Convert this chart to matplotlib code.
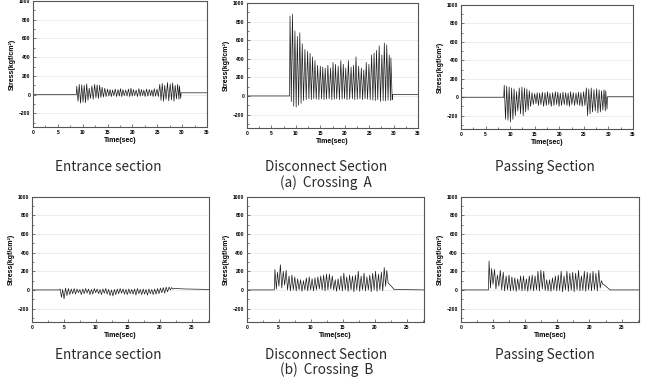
import numpy as np
import matplotlib.pyplot as plt
from matplotlib.ticker import MultipleLocator

# burst times (sec) of the train passing, crossing A and crossing B
t_a = [8.8, 9.3, 9.8, 10.3, 10.8, 11.3, 11.85, 12.4, 12.9, 13.4, 13.9, 14.45, 15.0, 15.5,
       16.0, 16.55, 17.1, 17.6, 18.1, 18.65, 19.2, 19.7, 20.2, 20.75, 21.3, 21.8, 22.3,
       22.85, 23.4, 23.9, 24.4, 24.95, 25.5, 26.0, 26.5, 27.05, 27.6, 28.1, 28.6, 29.1, 29.45]
t_b = [4.4, 4.8, 5.25, 5.7, 6.15, 6.6, 7.05, 7.5, 7.95, 8.4, 8.85, 9.3, 9.75, 10.2, 10.65,
       11.1, 11.55, 12.0, 12.45, 12.9, 13.35, 13.8, 14.25, 14.7, 15.15, 15.6, 16.05, 16.5,
       16.95, 17.4, 17.85, 18.3, 18.75, 19.2, 19.65, 20.1, 20.55, 21.0, 21.45, 21.85]

# crossing A - entrance
hi_a1 = [90, 110, 105, 100, 115, 70, 95, 110, 105, 100, 80, 70, 60, 55, 50, 60, 55, 65, 55, 50,
         60, 70, 55, 50, 65, 55, 50, 60, 55, 50, 65, 60, 110, 120, 100, 130, 115, 125, 100, 110, 95]
lo_a1 = [-70, -90, -80, -85, -60, -40, -50, -35, -40, -30, -25, -20, -15, -20, -10, -20, -15, -20,
         -10, -15, -20, -15, -10, -20, -15, -10, -20, -15, -10, -20, -15, -20, -60, -70, -50, -65,
         -55, -70, -45, -50, -40]
# crossing A - disconnect
hi_a2 = [860, 880, 700, 640, 680, 560, 500, 480, 460, 420, 380, 330, 320, 310, 300, 330, 300, 360,
         340, 320, 380, 340, 300, 380, 310, 330, 420, 320, 300, 280, 360, 340, 440, 460, 490, 540,
         440, 570, 550, 440, 410]
lo_a2 = [-60, -110, -120, -100, -80, -50, -40, -30, -40, -30, -35, -40, -30, -40, -35, -30, -40,
         -35, -30, -40, -35, -30, -40, -35, -30, -40, -35, -30, -40, -30, -35, -40, -45, -50, -40,
         -60, -50, -55, -45, -50, -40]
# crossing A - passing
hi_a3 = [130, 120, 110, 100, 90, 60, 100, 110, 100, 90, 70, 50, 40, 50, 45, 55, 50, 60, 45, 50,
         60, 55, 45, 55, 50, 45, 60, 50, 45, 55, 50, 60, 100, 90, 100, 80, 90, 80, 70, 80, 70]
lo_a3 = [-240, -250, -270, -240, -200, -150, -180, -200, -160, -140, -100, -80, -70, -90, -80,
         -100, -90, -80, -100, -90, -80, -100, -90, -80, -90, -100, -80, -90, -80, -90, -100, -90,
         -200, -180, -160, -150, -170, -160, -140, -150, -130]

# crossing B - entrance
hi_b1 = [10, 5, 20, 15, 10, 15, 10, 5, 10, 15, 10, 5, 15, 10, 5, 10, 15, 5, 0, 5,
         10, 15, 10, 5, 10, 5, 10, 15, 5, 10, 5, 10, 5, 10, 15, 20, 25, 30, 30, 25]
lo_b1 = [-80, -95, -60, -50, -40, -45, -30, -50, -40, -35, -50, -45, -30, -40, -50, -35, -45, -60,
         -65, -50, -40, -35, -45, -50, -40, -45, -55, -40, -50, -45, -55, -40, -50, -45, -40, -30,
         -35, -20, 0, 10]
# crossing B - disconnect
hi_b2 = [220, 190, 270, 200, 210, 150, 160, 140, 120, 110, 100, 130, 140, 120, 130, 140, 150, 160,
         170, 170, 150, 110, 120, 150, 180, 140, 160, 150, 160, 200, 150, 180, 140, 160, 180, 200,
         170, 190, 240, 210]
lo_b2 = [10, 40, 20, 50, 0, -10, 0, -10, 0, -15, 0, -10, 0, -10, 0, 10, 0, -10, 0, 10,
         0, -15, 0, -10, 0, -15, 0, -20, 0, -15, 0, -10, 0, -20, 0, -15, 0, -10, 40, 70]
# crossing B - passing
hi_b3 = [310, 230, 220, 160, 210, 190, 150, 160, 140, 130, 120, 150, 150, 120, 150, 160, 150, 200,
         210, 200, 110, 110, 130, 150, 160, 200, 150, 200, 180, 190, 180, 210, 150, 200, 190, 180,
         200, 180, 210, 100]
lo_b3 = [20, 60, 10, 40, 0, -10, 0, -10, -5, -15, 0, -10, -5, -15, 0, -10, 0, -10, 10, -5,
         -10, -15, 0, -10, -5, -20, 0, -15, -5, -20, 0, -10, -5, -15, 0, -10, 0, -10, 20, 60]

# level after the train has passed
tail_t_a = [29.8, 35.0]
tail_t_b1, tail_v_b1 = [22.3, 24.0, 27.7], [15, 10, 5]
tail_t_b2, tail_v_b2 = [22.3, 23.0, 27.7], [60, 5, 0]
tail_t_b3, tail_v_b3 = [22.2, 23.2, 27.7], [60, 0, 0]

captions = ["Entrance section", "Disconnect Section", "Passing Section"]
group_titles = ["(a)  Crossing  A", "(b)  Crossing  B"]


def trace(t, hi, lo, tail_t, tail_v, half):
    t = np.asarray(t, dtype=float)
    x = np.empty(2 * len(t))
    y = np.empty(2 * len(t))
    x[0::2], x[1::2] = t, t + half
    y[0::2], y[1::2] = hi, lo
    x = np.concatenate([[0, t[0] - 0.1], x, tail_t])
    y = np.concatenate([[0, 0], y, tail_v])
    return x, y


panels = [
    (trace(t_a, hi_a1, lo_a1, tail_t_a, [20, 20], 0.26), 35, [0.0511, 0.664, 0.2693, 0.3333]),
    (trace(t_a, hi_a2, lo_a2, tail_t_a, [15, 15], 0.26), 35, [0.3824, 0.6614, 0.2647, 0.3307]),
    (trace(t_a, hi_a3, lo_a3, tail_t_a, [5, 5], 0.26), 35, [0.7136, 0.6587, 0.2663, 0.328]),
    (trace(t_b, hi_b1, lo_b1, tail_t_b1, tail_v_b1, 0.22), 27.7, [0.0495, 0.148, 0.274, 0.3315]),
    (trace(t_b, hi_b2, lo_b2, tail_t_b2, tail_v_b2, 0.22), 27.7, [0.3819, 0.148, 0.2749, 0.3315]),
    (trace(t_b, hi_b3, lo_b3, tail_t_b3, tail_v_b3, 0.22), 27.7, [0.7132, 0.148, 0.276, 0.3315]),
]

fig = plt.figure(figsize=(6.46, 3.78), dpi=100)
lab_font = dict(family="Liberation Sans", weight="bold", size=5)

for (x, y), xmax, rect in panels:
    ax = fig.add_axes(rect)
    ax.plot(x, y, color="#1a1a1a", lw=0.5)
    ax.set_xlim(0, xmax)
    ax.set_ylim(-345, 1000)
    ax.xaxis.set_major_locator(MultipleLocator(5))
    ax.xaxis.set_minor_locator(MultipleLocator(2.5))
    ax.yaxis.set_major_locator(MultipleLocator(200))
    ax.yaxis.set_minor_locator(MultipleLocator(100))
    ax.grid(axis="y", color="#e6e6e6", lw=0.5)
    ax.set_axisbelow(True)
    ax.tick_params(which="both", direction="in", labelsize=3.6, pad=2, width=0.5, color="#444")
    ax.tick_params(which="major", length=2)
    ax.tick_params(which="minor", length=1.2)
    for lbl in ax.get_xticklabels() + ax.get_yticklabels():
        lbl.set_fontweight("bold")
        lbl.set_family("Liberation Sans")
    for sp in ax.spines.values():
        sp.set_color("#555555")
        sp.set_linewidth(0.8)
    ax.set_xlabel("Time(sec)", fontdict=lab_font, labelpad=1.5)
    ax.set_ylabel("Stress(kgf/cm²)", fontdict=lab_font, labelpad=2)

cap_font = dict(family=["Noto Sans CJK KR", "DejaVu Sans"], size=9.8, color="#2a2a2a",
                ha="center", va="center")
cap_x = [0.168, 0.505, 0.843]
for i, c in enumerate(captions):
    fig.text(cap_x[i], 1 - 167 / 378, c, **cap_font)
    fig.text(cap_x[i], 1 - 355 / 378, c, **cap_font)
fig.text(0.505, 1 - 183 / 378, group_titles[0], **cap_font)
fig.text(0.505, 1 - 370 / 378, group_titles[1], **cap_font)

fig.savefig("out.png", dpi=100)
